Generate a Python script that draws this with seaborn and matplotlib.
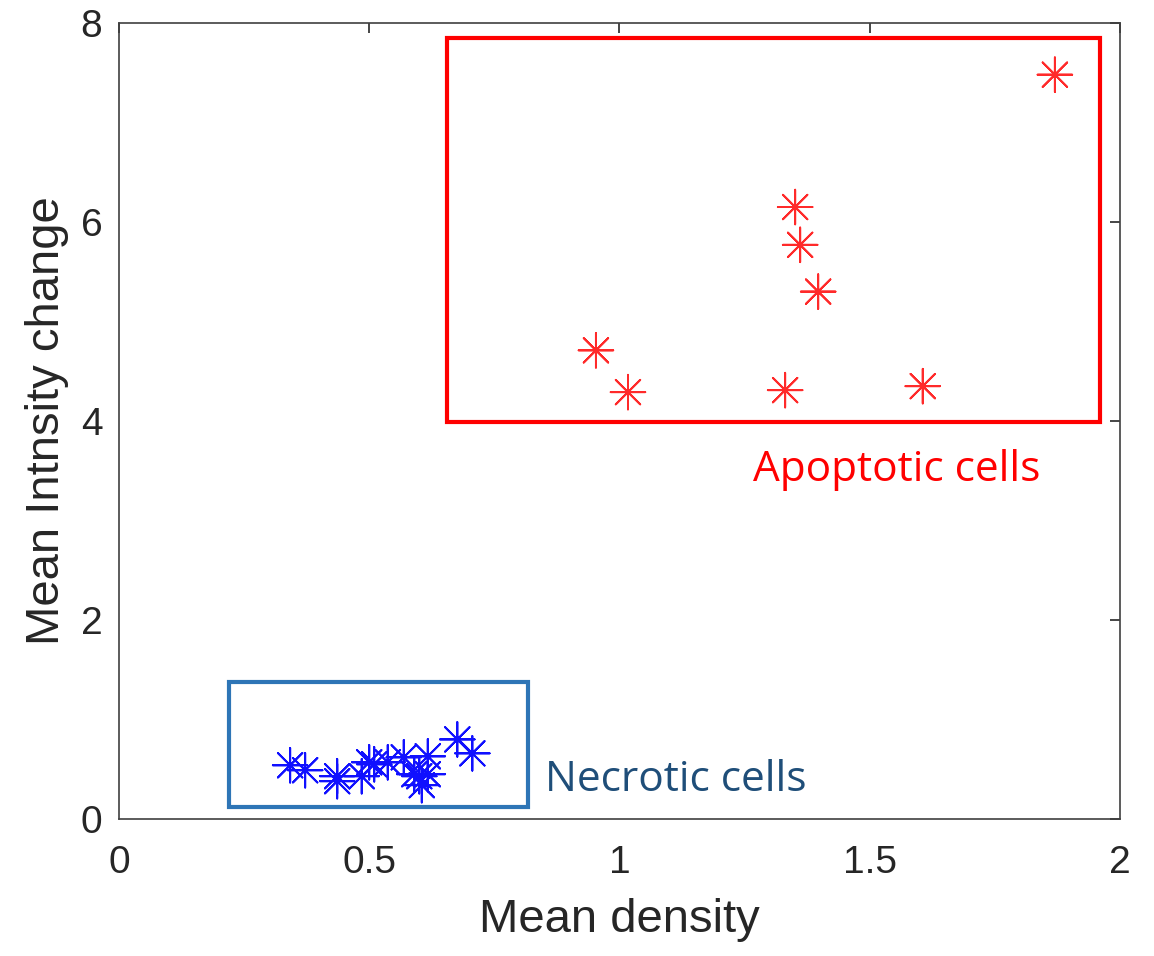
import matplotlib
matplotlib.use("Agg")
import matplotlib.pyplot as plt
from matplotlib.patches import Rectangle
import seaborn as sns
import pandas as pd

# ── Data ──────────────────────────────────────────────────────────────────────
necrotic_density = [0.342, 0.372, 0.436, 0.436, 0.485, 0.500, 0.510, 0.537,
                    0.569, 0.590, 0.600, 0.605, 0.617, 0.617, 0.676, 0.706]
necrotic_intensity = [0.54, 0.49, 0.43, 0.38, 0.43, 0.57, 0.55, 0.57,
                      0.62, 0.45, 0.43, 0.34, 0.63, 0.45, 0.80, 0.66]

apoptotic_density = [1.870, 1.351, 1.361, 1.397, 0.953, 1.017, 1.331, 1.606]
apoptotic_intensity = [7.48, 6.15, 5.77, 5.30, 4.71, 4.29, 4.31, 4.35]

x_ticks = [0, 0.5, 1, 1.5, 2]
x_tick_labels = ["0", "0.5", "1", "1.5", "2"]
y_ticks = [0, 2, 4, 6, 8]

df = pd.DataFrame({
    "density": necrotic_density + apoptotic_density,
    "intensity": necrotic_intensity + apoptotic_intensity,
    "group": ["Necrotic"] * len(necrotic_density) + ["Apoptotic"] * len(apoptotic_density),
})

# ── Style ─────────────────────────────────────────────────────────────────────
sns.set_style("white")
plt.rcParams["font.family"] = ["Liberation Sans", "DejaVu Sans"]
plt.rcParams["xtick.direction"] = "in"
plt.rcParams["ytick.direction"] = "in"

fig = plt.figure(figsize=(11.54, 9.56), dpi=100)
ax = fig.add_axes([0.1031, 0.1433, 0.8674, 0.8327])

ASTERISK = (8, 2, 0)
sns.scatterplot(
    data=df, x="density", y="intensity", hue="group",
    palette={"Necrotic": "#1010FF", "Apoptotic": "#FF2A2A"},
    marker=ASTERISK, s=620, linewidth=1.4, legend=False, ax=ax,
)

# ── Group boxes ───────────────────────────────────────────────────────────────
ax.add_patch(Rectangle((0.655, 3.99), 1.305, 3.86, fill=False,
                       edgecolor="#FF0000", linewidth=3, zorder=3))
ax.add_patch(Rectangle((0.22, 0.12), 0.597, 1.26, fill=False,
                       edgecolor="#2E75B6", linewidth=3, zorder=3))

ax.text(1.554, 3.51, "Apoptotic cells", color="#FF0000", fontsize=30.5,
        family="Open Sans", ha="center", va="center")
ax.text(1.113, 0.39, "Necrotic cells", color="#1F4E79", fontsize=30.5,
        family="Open Sans", ha="center", va="center")

# ── Axes ──────────────────────────────────────────────────────────────────────
ax.set_xlim(0, 2)
ax.set_ylim(0, 8)
ax.set_xticks(x_ticks)
ax.set_xticklabels(x_tick_labels)
ax.set_yticks(y_ticks)
ax.tick_params(labelsize=28, colors="#262626", length=7, width=1.2,
               top=True, right=True)
ax.tick_params(axis="x", pad=19)
ax.tick_params(axis="y", pad=12)
for sp in ax.spines.values():
    sp.set_color("#404040")
    sp.set_linewidth(1.2)
    sp.set_visible(True)

ax.set_xlabel("Mean density", fontsize=34, color="#262626", labelpad=12)
ax.set_ylabel("Mean Intnsity change", fontsize=34, color="#262626", labelpad=8)

fig.savefig("out.png", dpi=100)
